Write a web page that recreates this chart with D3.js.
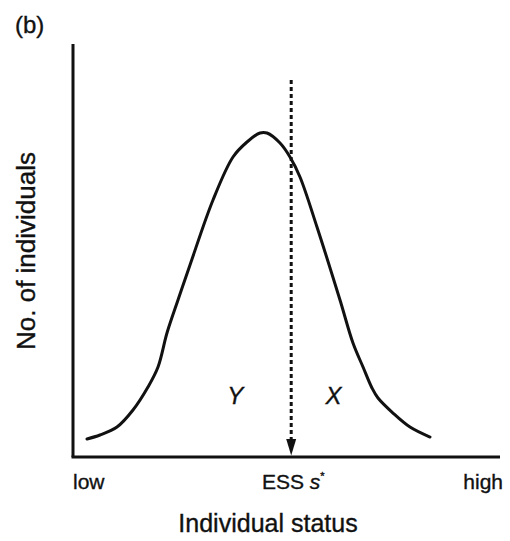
<!DOCTYPE html>
<html><head><meta charset="utf-8">
<script src="https://cdn.jsdelivr.net/npm/d3@7"></script>
<style>
html,body{margin:0;padding:0;background:#fff;}
svg{display:block;font-family:"Liberation Sans",Arial,Helvetica,sans-serif;}
text{fill:#111;stroke:#111;stroke-width:0.35px;}
</style></head>
<body>
<script>
// Data (arbitrary units: status 0–100, count 0–100)
const statusX = [3.28, 6.32, 10.30, 14.05, 17.56, 19.91, 22.01, 24.59, 27.40, 32.79, 37.47, 40.75, 43.79, 45.43, 48.48, 50.82, 53.16, 57.14, 62.53, 65.57, 67.92, 70.02, 71.43, 74.94, 78.92, 83.61];
const countY  = [4.36, 5.33, 7.26, 11.38, 16.95, 21.79, 30.02, 38.01, 46.49, 62.23, 72.64, 76.27, 78.45, 78.45, 76.03, 72.64, 67.80, 55.69, 38.01, 27.60, 21.79, 16.71, 14.29, 10.65, 7.26, 4.84];
const essX = 51.1;
const essTop = 91.3;
const xTickLabels = ["low", "ESS", "high"];
const xTickPos = [0, 51.1, 100];
const regionLabels = ["Y", "X"];
const regionX = [38.0, 61.0];
const regionY = [14.5, 14.5];

const W = 510, H = 541;
const svg = d3.select("body").append("svg").attr("width", W).attr("height", H);
const x = d3.scaleLinear().domain([0, 100]).range([73, 500]);
const y = d3.scaleLinear().domain([0, 100]).range([457, 44]);

// axes
svg.append("line").attr("x1", x(0)).attr("x2", x(0)).attr("y1", y(100)).attr("y2", y(0))
  .attr("stroke", "#111").attr("stroke-width", 3);
svg.append("line").attr("x1", x(0) - 1.5).attr("x2", x(100)).attr("y1", y(0)).attr("y2", y(0))
  .attr("stroke", "#111").attr("stroke-width", 3);

// curve
const pts = statusX.map((d, i) => [d, countY[i]]);
svg.append("path").datum(pts)
  .attr("d", d3.line().x(d => x(d[0])).y(d => y(d[1])).curve(d3.curveCatmullRom.alpha(0.5)))
  .attr("fill", "none").attr("stroke", "#111").attr("stroke-width", 3).attr("stroke-linecap", "round");

// dashed ESS line with arrow
svg.append("line").attr("x1", x(essX)).attr("x2", x(essX)).attr("y1", y(essTop)).attr("y2", y(0) - 16)
  .attr("stroke", "#111").attr("stroke-width", 3).attr("stroke-dasharray", "4,3");
svg.append("path")
  .attr("d", `M${x(essX) - 5},${y(0) - 18}L${x(essX) + 5},${y(0) - 18}L${x(essX)},${y(0) - 1.5}Z`)
  .attr("fill", "#111");

// tick labels
svg.append("text").attr("x", x(xTickPos[0])).attr("y", 489).attr("font-size", 21).text(xTickLabels[0]);
const ess = svg.append("text").attr("x", x(xTickPos[1]) + 2).attr("y", 489).attr("font-size", 21).attr("text-anchor", "middle");
ess.append("tspan").text(xTickLabels[1] + " ");
ess.append("tspan").attr("font-style", "italic").text("s");
ess.append("tspan").attr("font-size", 11).attr("dy", -9).text("*");
svg.append("text").attr("x", 503).attr("y", 489).attr("font-size", 21).attr("text-anchor", "end").text(xTickLabels[2]);

// axis titles
svg.append("text").attr("x", 268).attr("y", 532).attr("font-size", 25).attr("text-anchor", "middle").text("Individual status");
svg.append("text").attr("transform", "translate(35,251) rotate(-90)").attr("font-size", 26).attr("text-anchor", "middle").text("No. of individuals");

// panel label
svg.append("text").attr("x", 15).attr("y", 33).attr("font-size", 24).text("(b)");

// region labels
regionLabels.forEach((t, i) => {
  svg.append("text").attr("x", x(regionX[i])).attr("y", y(regionY[i]) + 7).attr("font-size", 24)
    .attr("font-style", "italic").attr("text-anchor", "middle").text(t);
});
</script>
</body></html>
